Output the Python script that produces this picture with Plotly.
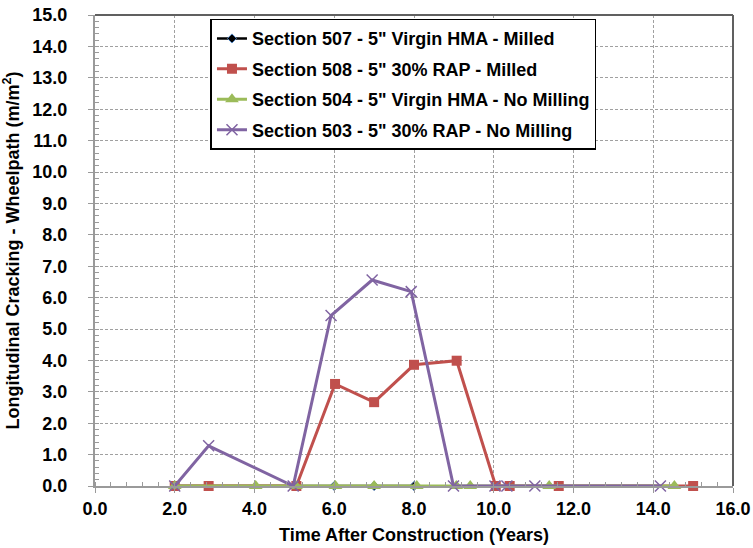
import plotly.graph_objects as go

# Data
x_507 = [2.0, 5.0, 6.0, 7.0, 8.0]
y_507 = [0.0, 0.0, 0.0, 0.0, 0.0]

x_508 = [2.0, 2.85, 5.05, 6.02, 7.0, 8.0, 9.07, 10.05, 10.4, 11.63, 15.0]
y_508 = [0.0, 0.0, 0.0, 3.25, 2.67, 3.86, 3.99, 0.0, 0.0, 0.0, 0.0]

x_504 = [2.0, 4.03, 5.04, 6.03, 7.0, 8.07, 9.06, 9.41, 11.39, 14.53]
y_504 = [0.0, 0.0, 0.0, 0.0, 0.0, 0.0, 0.0, 0.0, 0.0, 0.0]

x_503 = [2.0, 2.85, 4.97, 5.92, 6.95, 7.93, 8.99, 10.03, 10.33, 11.03, 14.18]
y_503 = [0.0, 1.28, 0.0, 5.43, 6.56, 6.19, 0.0, 0.0, 0.0, 0.0, 0.0]

names = [
    'Section 507 - 5" Virgin HMA - Milled',
    'Section 508 - 5" 30% RAP - Milled',
    'Section 504 - 5" Virgin HMA - No Milling',
    'Section 503 - 5" 30% RAP - No Milling',
]

fig = go.Figure()
fig.add_trace(go.Scatter(x=x_507, y=y_507, name=names[0], mode='lines+markers', legendgroup='a',
                         cliponaxis=False,
                         line=dict(color='black', width=2.5),
                         marker=dict(symbol='diamond', size=7, color='black', line=dict(color='#4F81BD', width=1))))
fig.add_trace(go.Scatter(x=x_508, y=y_508, name=names[1], mode='lines+markers', legendgroup='b',
                         cliponaxis=False,
                         line=dict(color='#C0504D', width=3),
                         marker=dict(symbol='square', size=10, color='#C0504D')))
fig.add_trace(go.Scatter(x=x_504, y=y_504, name=names[2], mode='lines+markers', legendgroup='c',
                         cliponaxis=False,
                         line=dict(color='#9BBB59', width=3),
                         marker=dict(symbol='triangle-up', size=12, color='#9BBB59')))
fig.add_trace(go.Scatter(x=x_503, y=y_503, name=names[3], mode='lines+markers', legendgroup='d',
                         cliponaxis=False,
                         line=dict(color='#8064A2', width=3),
                         marker=dict(symbol='x-thin', size=11, line=dict(color='#8064A2', width=1.5))))

font_family = 'Liberation Sans, Arial, sans-serif'

fig.update_layout(
    width=753, height=548,
    margin=dict(l=95, r=20, t=15, b=62),
    plot_bgcolor='white', paper_bgcolor='white',
    font=dict(family=font_family, size=18, color='black'),
    showlegend=True,
    legend=dict(x=0.181, y=0.992, xanchor='left', yanchor='top',
                bgcolor='white', bordercolor='black', borderwidth=1.5,
                font=dict(size=18, family=font_family, color='black', weight='bold'),
                tracegroupgap=4),
    xaxis=dict(
        range=[0, 16], dtick=2, tickformat='.1f', automargin=False,
        showgrid=True, gridcolor='#A0A0A0', griddash='3px,2px', gridwidth=1,
        showline=True, linecolor='#9A9A9A', linewidth=2,
        ticks='outside', ticklen=5, tickcolor='#9A9A9A',
        minor=dict(dtick=0.4, ticks='inside', ticklen=4, tickcolor='#9A9A9A', showgrid=False),
        tickfont=dict(size=18, weight='bold'),
        title=dict(text='Time After Construction (Years)', font=dict(size=18, weight='bold'), standoff=11),
        zeroline=False,
    ),
    yaxis=dict(
        range=[0, 15], dtick=1, tickformat='.1f', automargin=False,
        showgrid=True, gridcolor='#A0A0A0', griddash='3px,2px', gridwidth=1,
        showline=True, linecolor='#9A9A9A', linewidth=2,
        ticks='outside', ticklen=5, tickcolor='#9A9A9A',
        minor=dict(dtick=0.2, ticks='inside', ticklen=4, tickcolor='#9A9A9A', showgrid=False),
        tickfont=dict(size=18, weight='bold'),
        ticklabelstandoff=17,
        title=dict(text='Longitudinal Cracking - Wheelpath (m/m<sup>2</sup>)', font=dict(size=18, weight='bold'), standoff=8),
        zeroline=False,
    ),
    shapes=[
        dict(type='line', xref='paper', yref='paper', x0=0, x1=1, y0=1, y1=1, line=dict(color='#606060', width=2)),
        dict(type='line', xref='paper', yref='paper', x0=1, x1=1, y0=0, y1=1, line=dict(color='#606060', width=2)),
    ],
)

fig.write_html('out.html')
